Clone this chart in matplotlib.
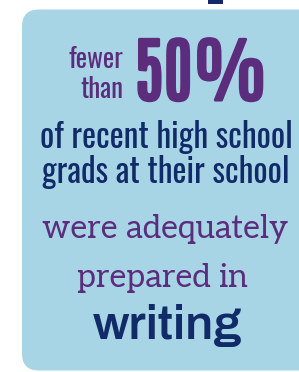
import matplotlib
matplotlib.use("Agg")
import matplotlib.pyplot as plt
import matplotlib.patheffects as pe
from matplotlib.patches import FancyBboxPatch, Rectangle

# Дані (тексти інфографіки)
small_words = ["fewer", "than"]
big_value = "50%"
navy_lines = ["of recent high school", "grads at their school"]
serif_lines = ["were adequately", "prepared in"]
subject = "writing"

purple = "#5b2d7c"
navy = "#112a68"
box_color = "#a8d5e6"
serif_fonts = ["Aleo", "Kameron", "Zilla Slab"]

fig = plt.figure(figsize=(2.99, 3.72), dpi=100)
ax = fig.add_axes([0, 0, 1, 1])
ax.set_xlim(0, 299)
ax.set_ylim(372, 0)
ax.axis("off")
renderer = fig.canvas.get_renderer()


def fit_text(x, y, s, width, ha="center", size=None, **kw):
    # підбираємо розмір шрифту під потрібну ширину (в пікселях)
    t = ax.text(x, y, s, fontsize=20, ha=ha, va="baseline", **kw)
    if size is None:
        w = t.get_window_extent(renderer).width
        size = 20 * width / w
    t.set_fontsize(size)
    return size


# фон-картка і смужка зверху
ax.add_patch(FancyBboxPatch((22, 9.5), 320, 361, boxstyle="round,pad=0,rounding_size=17",
                            facecolor=box_color, edgecolor="none"))
ax.add_patch(Rectangle((208, 0), 15, 4, facecolor=navy, edgecolor="none"))

s = fit_text(123, 68, small_words[0], 55, ha="right", color=purple, family="Oswald")
fit_text(123, 98, small_words[1], 0, ha="right", size=s, color=purple, family="Oswald")

# "50%" — вузький шрифт, потовщений обводкою
fit_text(134, 100, big_value, 134, ha="left", color=purple, family="Antonio", weight="bold",
         path_effects=[pe.withStroke(linewidth=2.2, foreground=purple)])

s = fit_text(166, 148, navy_lines[0], 254, color=navy, family="Oswald", weight="semibold")
fit_text(166, 183, navy_lines[1], 0, size=s, color=navy, family="Oswald", weight="semibold")

s = fit_text(165, 238, serif_lines[0], 247, color=purple, family=serif_fonts, weight="light")
fit_text(162, 287, serif_lines[1], 0, size=s, color=purple, family=serif_fonts, weight="light")

fit_text(168, 339, subject, 149, color=navy, family="Archivo", weight=800)

fig.savefig("out.png", dpi=100)
